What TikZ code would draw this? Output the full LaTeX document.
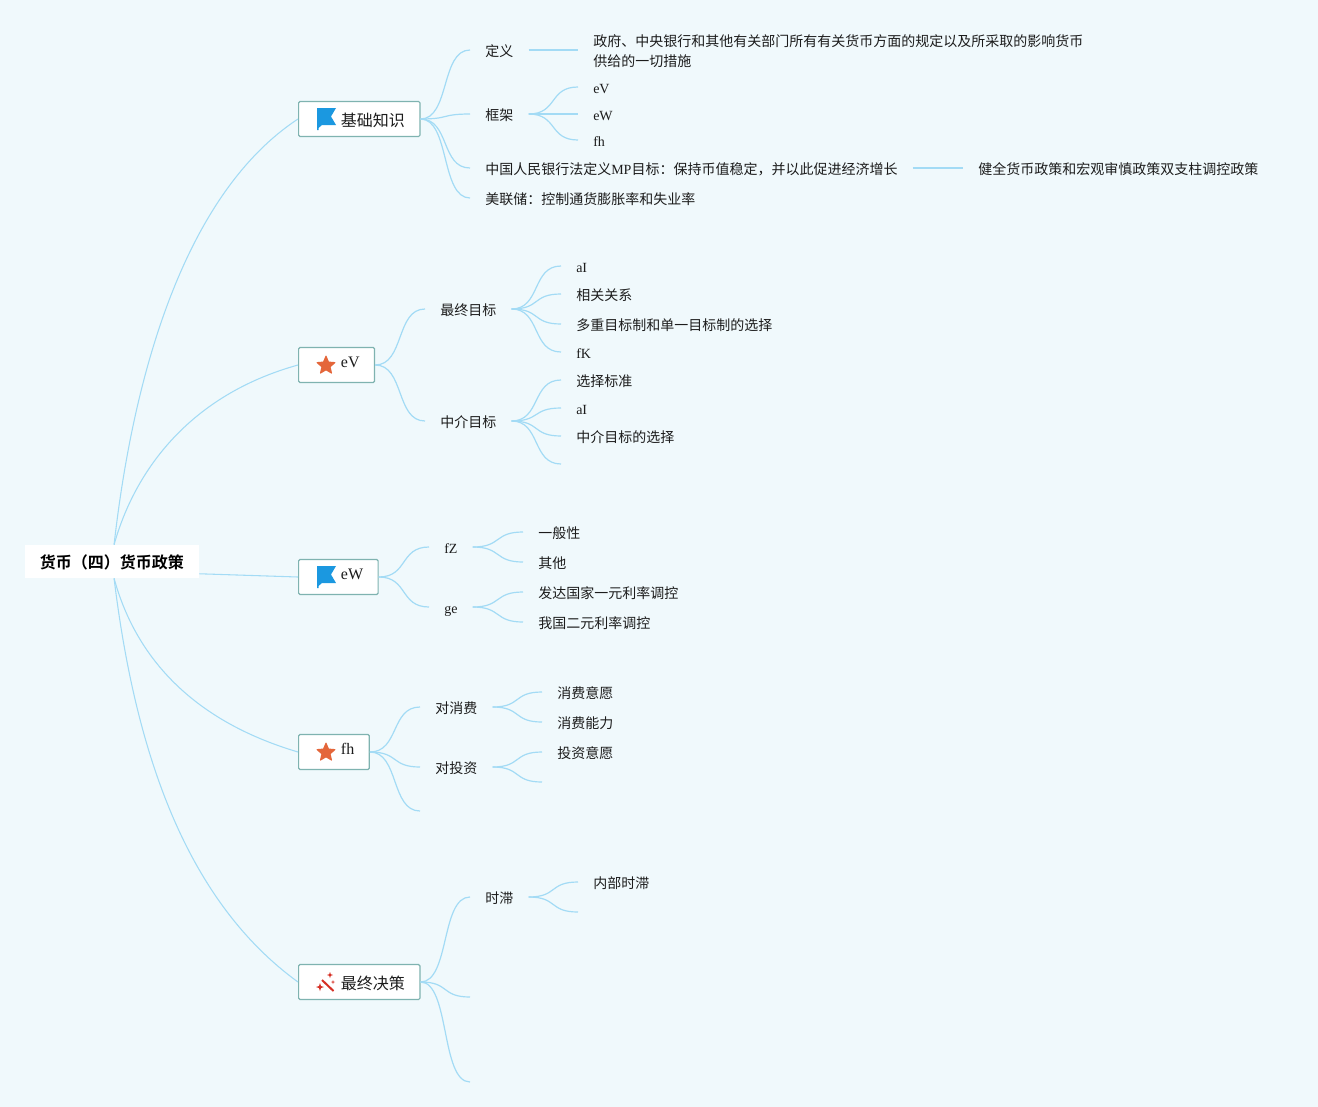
\documentclass[tikz,border=0pt]{standalone}
\usepackage{fontspec}
\setmainfont{Liberation Serif}
\newfontfamily\cjk[BoldFont={Noto Sans CJK SC Bold}]{Noto Sans CJK SC}
\usetikzlibrary{shapes.geometric}
\definecolor{pagebg}{HTML}{F0F9FC}
\definecolor{twigblue}{HTML}{A3DBF5}
\definecolor{boxteal}{HTML}{7FB3B0}
\definecolor{flagblue}{HTML}{1B98E0}
\definecolor{staror}{HTML}{E4663A}
\definecolor{wandred}{HTML}{D63025}
\definecolor{inkblack}{HTML}{1C1C1C}
\newcommand{\lat}[1]{{\rmfamily #1}}
\newcommand{\hi}[1]{\raisebox{4pt}{\rmfamily #1}}
\tikzset{
  leafnode/.style={anchor=west,inner xsep=11.25pt,inner ysep=0pt,text=inkblack,text height=11pt,text depth=1pt,
    font=\cjk\fontsize{10.5}{15}\selectfont},
  longnode/.style={anchor=west,inner xsep=11.25pt,inner ysep=0pt,text=inkblack,align=left,
    font=\cjk\fontsize{10.5}{15}\selectfont},
  topicnode/.style={anchor=west,draw=boxteal,fill=white,line width=.9pt,rounded corners=1pt,inner xsep=11.25pt,inner ysep=0pt,
    minimum height=26.25pt,text=inkblack,text height=12.5pt,text depth=1.3pt,font=\cjk\fontsize{12}{14}\selectfont},
  rootnode/.style={fill=white,inner sep=0pt,minimum width=130.5pt,minimum height=24.75pt,text=black,
    text height=11pt,text depth=1pt,font=\cjk\fontsize{12}{14}\selectfont\bfseries},
  twig/.style={draw=twigblue,line width=.9pt,
    to path={.. controls ([xshift=22pt]\tikztostart) and ([xshift=-22pt]\tikztotarget) .. (\tikztotarget)}},
  trunk/.style={draw=twigblue,line width=.8pt},
  flagicon/.pic={
    \fill [flagblue] (19,-11) -- (38,-11) -- (33,-2.5) -- (38,6) -- (24,6) -- (20.5,9) -- (20.5,11) -- (19,11) -- cycle;
  },
  staricon/.pic={
    \node [star,star points=5,star point ratio=2.2,fill=staror,draw=staror,line join=round,line width=.8pt,
      minimum size=14pt,inner sep=0pt] (-s) at (28,.5) {};
  },
  wandicon/.pic={
    \draw [wandred,line width=1.5pt] (24,-2) -- (35.5,9);
    \fill [wandred] (22,1) -- (23,4) -- (26,5) -- (23,6) -- (22,9) -- (21,6) -- (18,5) -- (21,4) -- cycle;
    \fill [wandred] (32,-10) -- (32.8,-7.8) -- (35,-7) -- (32.8,-6.2) -- (32,-4) -- (31.2,-6.2) -- (29,-7) -- (31.2,-7.8) -- cycle;
    \fill [wandred] (35,-2) -- (35.5,-.5) -- (37,0) -- (35.5,.5) -- (35,2) -- (34.5,.5) -- (33,0) -- (34.5,-.5) -- cycle;
  }
}

\begin{document}
\begin{tikzpicture}[x=0.75pt,y=-0.75pt]

\fill [pagebg] (0,0) rectangle (1318,1107);

% nodes
\node [style = rootnode] (root) at (112,561.5) {货币（四）货币政策};

\node [style = topicnode] (base) at (298,119) {\hspace{20.5pt}基础知识};
\node [style = topicnode] (ev) at (298,365) {\hspace{20.5pt}\hi{eV}};
\node [style = topicnode] (ew) at (298,577) {\hspace{20.5pt}\hi{eW}};
\node [style = topicnode] (fh) at (298,752) {\hspace{20.5pt}\hi{fh}};
\node [style = topicnode] (deci) at (298,982) {\hspace{20.5pt}最终决策};

\pic at (base.west) {flagicon};
\pic (evstar) at (ev.west) {staricon};
\pic at (ew.west) {flagicon};
\pic (fhstar) at (fh.west) {staricon};
\pic at (deci.west) {wandicon};

% basics
\node [style = leafnode] (defn) at (470,50) {定义};
\node [style = leafnode] (frame) at (470,114) {框架};
\node [style = leafnode] (pboc) at (470,168) {中国人民银行法定义\lat{MP}目标：保持币值稳定，并以此促进经济增长};
\node [style = leafnode] (fed) at (470,198) {美联储：控制通货膨胀率和失业率};
\node [style = longnode] (defntext) at (578,51.5) {政府、中央银行和其他有关部门所有有关货币方面的规定以及所采取的影响货币\\供给的一切措施};
\node [style = leafnode] (frameev) at (578,87) {\lat{eV}};
\node [style = leafnode] (frameew) at (578,114) {\lat{eW}};
\node [style = leafnode] (framefh) at (578,140) {\lat{fh}};
\node [style = leafnode] (pboctext) at (963,168) {健全货币政策和宏观审慎政策双支柱调控政策};

% eV
\node [style = leafnode] (finalgoal) at (425,309) {最终目标};
\node [style = leafnode] (midgoal) at (425,421) {中介目标};
\node [style = leafnode] (finala) at (561,266) {\lat{aI}};
\node [style = leafnode] (finalb) at (561,294) {相关关系};
\node [style = leafnode] (finalc) at (561,324) {多重目标制和单一目标制的选择};
\node [style = leafnode] (finald) at (561,352) {\lat{fK}};
\node [style = leafnode] (mida) at (561,380) {选择标准};
\node [style = leafnode] (midb) at (561,408) {\lat{aI}};
\node [style = leafnode] (midc) at (561,436) {中介目标的选择};
\coordinate (midd) at (561,464);

% eW
\node [style = leafnode] (fz) at (429,547) {\lat{fZ}};
\node [style = leafnode] (ge) at (429,607) {\lat{ge}};
\node [style = leafnode] (fza) at (523,532) {一般性};
\node [style = leafnode] (fzb) at (523,562) {其他};
\node [style = leafnode] (gea) at (523,592) {发达国家一元利率调控};
\node [style = leafnode] (geb) at (523,622) {我国二元利率调控};

% fh
\node [style = leafnode] (cons) at (420,707) {对消费};
\node [style = leafnode] (inv) at (420,767) {对投资};
\coordinate (fhend) at (420,811);
\node [style = leafnode] (consa) at (542,692) {消费意愿};
\node [style = leafnode] (consb) at (542,722) {消费能力};
\node [style = leafnode] (inva) at (542,752) {投资意愿};
\coordinate (invb) at (542,782);

% decision
\node [style = leafnode] (lag) at (470,897) {时滞};
\coordinate (decib) at (470,997);
\coordinate (decic) at (470,1082);
\node [style = leafnode] (laga) at (578,882) {内部时滞};
\coordinate (lagb) at (578,912);

% edges
\draw [style = trunk] (root.83) .. controls (135,360) and (190,190) .. (base.west);
\draw [style = trunk] (root.83) .. controls (135,470) and (190,395) .. (ev.west);
\draw [style = trunk] (root.-8) to (ew.west);
\draw [style = trunk] (root.-83) .. controls (135,655) and (190,720) .. (fh.west);
\draw [style = trunk] (root.-83) .. controls (135,750) and (185,900) .. (deci.west);

\draw [style = twig] (base.east) to (defn.west);
\draw [style = twig] (base.east) to (frame.west);
\draw [style = twig] (base.east) to (pboc.west);
\draw [style = twig] (base.east) to (fed.west);
\draw [style = twig] (defn.east) to (defntext.west |- defn.east);
\draw [style = twig] (frame.east) to (frameev.west);
\draw [style = twig] (frame.east) to (frameew.west);
\draw [style = twig] (frame.east) to (framefh.west);
\draw [style = twig] (pboc.east) to (pboctext.west);

\draw [style = twig] (ev.east) to (finalgoal.west);
\draw [style = twig] (ev.east) to (midgoal.west);
\draw [style = twig] (finalgoal.east) to (finala.west);
\draw [style = twig] (finalgoal.east) to (finalb.west);
\draw [style = twig] (finalgoal.east) to (finalc.west);
\draw [style = twig] (finalgoal.east) to (finald.west);
\draw [style = twig] (midgoal.east) to (mida.west);
\draw [style = twig] (midgoal.east) to (midb.west);
\draw [style = twig] (midgoal.east) to (midc.west);
\draw [style = twig] (midgoal.east) to (midd);

\draw [style = twig] (ew.east) to (fz.west);
\draw [style = twig] (ew.east) to (ge.west);
\draw [style = twig] (fz.east) to (fza.west);
\draw [style = twig] (fz.east) to (fzb.west);
\draw [style = twig] (ge.east) to (gea.west);
\draw [style = twig] (ge.east) to (geb.west);

\draw [style = twig] (fh.east) to (cons.west);
\draw [style = twig] (fh.east) to (inv.west);
\draw [style = twig] (fh.east) to (fhend);
\draw [style = twig] (cons.east) to (consa.west);
\draw [style = twig] (cons.east) to (consb.west);
\draw [style = twig] (inv.east) to (inva.west);
\draw [style = twig] (inv.east) to (invb);

\draw [style = twig] (deci.east) to (lag.west);
\draw [style = twig] (deci.east) to (decib);
\draw [style = twig] (deci.east) to (decic);
\draw [style = twig] (lag.east) to (laga.west);
\draw [style = twig] (lag.east) to (lagb);

\end{tikzpicture}
\end{document}
